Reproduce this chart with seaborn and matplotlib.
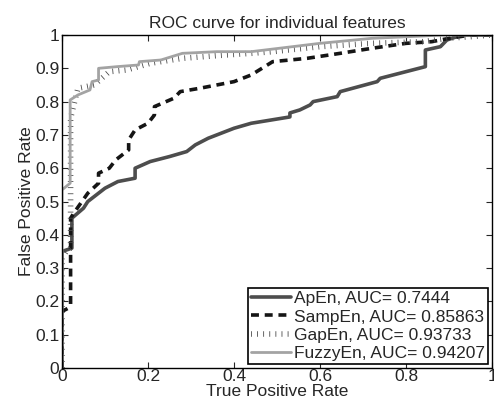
import matplotlib
matplotlib.use("Agg")
import matplotlib.pyplot as plt
import seaborn as sns
import pandas as pd

# ROC curves (x = "True Positive Rate", y = "False Positive Rate")
apen_x = [0, 0, 0.023, 0.023, 0.05, 0.06, 0.08, 0.10, 0.13, 0.17, 0.17, 0.205, 0.25, 0.29, 0.31,
          0.34, 0.40, 0.44, 0.53, 0.53, 0.553, 0.577, 0.584, 0.64, 0.647, 0.733, 0.74, 0.845, 0.845,
          0.88, 0.895, 0.93, 1.0]
apen_y = [0, 0.35, 0.36, 0.45, 0.48, 0.50, 0.52, 0.54, 0.56, 0.57, 0.60, 0.62, 0.635, 0.65, 0.67,
          0.69, 0.72, 0.735, 0.754, 0.766, 0.775, 0.79, 0.80, 0.815, 0.83, 0.86, 0.87, 0.905, 0.955,
          0.965, 0.985, 1.0, 1.0]

sampen_x = [0, 0, 0.015, 0.02, 0.02, 0.03, 0.06, 0.085, 0.085, 0.11, 0.125, 0.155, 0.155, 0.17, 0.2,
            0.215, 0.215, 0.26, 0.275, 0.32, 0.40, 0.44, 0.49, 0.57, 0.647, 0.72, 0.80, 0.86, 0.88,
            0.90, 0.95, 1.0]
sampen_y = [0, 0.17, 0.18, 0.19, 0.45, 0.47, 0.525, 0.555, 0.585, 0.60, 0.625, 0.655, 0.685, 0.715,
            0.735, 0.76, 0.785, 0.81, 0.83, 0.84, 0.86, 0.88, 0.92, 0.93, 0.945, 0.96, 0.975, 0.98,
            0.985, 0.99, 1.0, 1.0]

gapen_x = [0, 0, 0.01, 0.02, 0.02, 0.037, 0.075, 0.11, 0.15, 0.205, 0.28, 0.38, 0.44, 0.49, 0.60,
           0.72, 0.84, 0.895, 0.95, 1.0]
gapen_y = [0, 0.33, 0.35, 0.36, 0.75, 0.84, 0.85, 0.89, 0.895, 0.915, 0.93, 0.94, 0.945, 0.95, 0.965,
           0.975, 0.98, 0.99, 0.995, 1.0]

fuzzy_x = [0, 0, 0.019, 0.019, 0.037, 0.065, 0.07, 0.085, 0.085, 0.128, 0.178, 0.18, 0.23, 0.28,
           0.36, 0.44, 0.60, 0.72, 0.84, 0.88, 1.0]
fuzzy_y = [0, 0.535, 0.555, 0.805, 0.82, 0.835, 0.86, 0.865, 0.90, 0.905, 0.91, 0.92, 0.925, 0.945,
           0.95, 0.95, 0.975, 0.99, 0.997, 1.0, 1.0]

labels = ["ApEn, AUC= 0.7444", "SampEn, AUC= 0.85863",
          "GapEn, AUC= 0.93733", "FuzzyEn, AUC= 0.94207"]
yticks = [0, 0.1, 0.2, 0.3, 0.4, 0.5, 0.6, 0.7, 0.8, 0.9, 1]
ytick_labels = ["0", "0.1", "0.2", "0.3", "0.4", "0.5", "0.6", "0.7", "0.8", "0.9", "1"]
xticks = [0, 0.2, 0.4, 0.6, 0.8, 1]
xtick_labels = ["0", "0.2", "0.4", "0.6", "0.8", "1"]

sns.set_style("ticks")
plt.rcParams['font.family'] = ['Liberation Sans', 'DejaVu Sans']
plt.rcParams['xtick.direction'] = 'in'
plt.rcParams['ytick.direction'] = 'in'
FS = 12.5

fig = plt.figure(figsize=(4.94, 4.09), dpi=100)
ax = fig.add_axes([0.1255, 0.1002, 0.8705, 0.8142])

styles = [
    dict(color="#4d4d4d", linewidth=2.6, linestyle="-"),
    dict(color="#151515", linewidth=2.6, linestyle=(0, (2.2, 1.6))),
    dict(color="#4a4a4a", linewidth=4.0, linestyle=(0, (0.15, 0.95))),
    dict(color="#a3a3a3", linewidth=2.0, linestyle="-"),
]
series = [(apen_x, apen_y), (sampen_x, sampen_y), (gapen_x, gapen_y), (fuzzy_x, fuzzy_y)]

for (xs, ys), lab, st in zip(series, labels, styles):
    df = pd.DataFrame({"tpr": xs, "fpr": ys})
    sns.lineplot(data=df, x="tpr", y="fpr", ax=ax, sort=False, estimator=None,
                 label=lab, **st)

ax.set_xlim(0, 1)
ax.set_ylim(0, 1)
ax.set_xticks(xticks)
ax.set_xticklabels(xtick_labels)
ax.set_yticks(yticks)
ax.set_yticklabels(ytick_labels)
ax.tick_params(top=True, right=True, length=4, width=0.8, labelsize=FS, pad=2)
ax.tick_params(axis="x", pad=1)
for s in ax.spines.values():
    s.set_visible(True)
    s.set_linewidth(1.0)
    s.set_color("black")

ax.set_title("ROC curve for individual features", fontsize=FS, pad=5)
ax.set_xlabel("True Positive Rate", fontsize=FS, labelpad=0)
ax.set_ylabel("False Positive Rate", fontsize=FS, labelpad=1)

leg = ax.legend(loc="lower right", fontsize=FS, frameon=True, fancybox=False,
                handlelength=2.3, handletextpad=0.2, labelspacing=0.18,
                borderpad=0.15, borderaxespad=0.25, edgecolor="black")
leg.get_frame().set_linewidth(1.2)
leg.get_frame().set_alpha(1)

fig.savefig("out.png", dpi=100)
